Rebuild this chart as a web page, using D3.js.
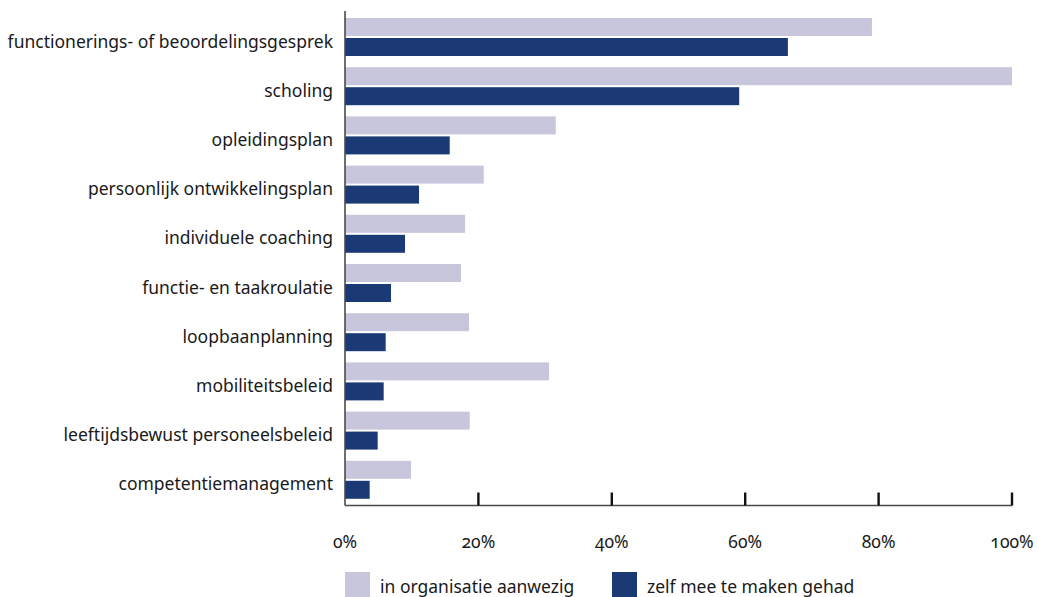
<!DOCTYPE html>
<html>
<head>
<meta charset="utf-8">
<script src="https://cdn.jsdelivr.net/npm/d3@7"></script>
<style>
  html, body { margin: 0; padding: 0; background: #fff; }
  svg { display: block; }
  text { font-family: "Noto Sans", "Open Sans", sans-serif; fill: #1a1a1a; }
  .num { font-variant-numeric: oldstyle-nums; font-feature-settings: "onum" 1; }
</style>
</head>
<body>
<svg id="chart" width="1037" height="597"></svg>
<script>
// Categories, top to bottom
const categories = [
  "functionerings- of beoordelingsgesprek",
  "scholing",
  "opleidingsplan",
  "persoonlijk ontwikkelingsplan",
  "individuele coaching",
  "functie- en taakroulatie",
  "loopbaanplanning",
  "mobiliteitsbeleid",
  "leeftijdsbewust personeelsbeleid",
  "competentiemanagement"
];

// Series (percentages)
const seriesNames = ["in organisatie aanwezig", "zelf mee te maken gehad"];
const presentInOrg = [79.0, 100, 31.6, 20.8, 18.0, 17.4, 18.6, 30.6, 18.7, 9.9];
const experiencedSelf = [66.4, 59.1, 15.7, 11.1, 9.0, 6.9, 6.1, 5.8, 4.9, 3.7];

// Axis ticks
const tickValues = [0, 20, 40, 60, 80, 100];
const tickLabels = ["0%", "20%", "40%", "60%", "80%", "100%"];

const colors = ["#c8c6dc", "#1b3a75"];
const fontSize = 17.5;

const svg = d3.select("#chart");

const x = d3.scaleLinear().domain([0, 100]).range([345, 1012]);
const y = d3.scaleBand()
  .domain(categories)
  .range([12.4, 504.4])
  .paddingInner(0.228)
  .paddingOuter(0.114);
const ySub = d3.scaleBand()
  .domain(seriesNames)
  .range([0, y.bandwidth()])
  .paddingInner(0.1)
  .paddingOuter(0);

const rows = categories.map((c, i) => ({
  cat: c,
  values: [presentInOrg[i], experiencedSelf[i]]
}));

// Bars
const groups = svg.append("g").selectAll("g")
  .data(rows)
  .join("g")
  .attr("transform", d => `translate(0,${y(d.cat)})`);

groups.selectAll("rect")
  .data(d => d.values.map((v, k) => ({ v, k })))
  .join("rect")
  .attr("x", x(0))
  .attr("y", d => ySub(seriesNames[d.k]))
  .attr("width", d => x(d.v) - x(0))
  .attr("height", ySub.bandwidth())
  .attr("fill", d => colors[d.k]);

// Category labels
svg.append("g").selectAll("text")
  .data(categories)
  .join("text")
  .attr("x", 333)
  .attr("y", d => y(d) + y.bandwidth() / 2 + 10.5)
  .attr("text-anchor", "end")
  .attr("font-size", fontSize)
  .text(d => d);

// Axes lines
const axisY = 505.5;
svg.append("line")
  .attr("x1", x(0)).attr("x2", x(0))
  .attr("y1", 11).attr("y2", axisY)
  .attr("stroke", "#4a4a4a").attr("stroke-width", 1.6);

svg.append("line")
  .attr("x1", x(0)).attr("x2", x(100))
  .attr("y1", axisY).attr("y2", axisY)
  .attr("stroke", "#4a4a4a").attr("stroke-width", 1.6);

// Tick marks (pointing up into the plot)
svg.append("g").selectAll("line")
  .data(tickValues.filter(v => v > 0))
  .join("line")
  .attr("x1", d => x(d)).attr("x2", d => x(d))
  .attr("y1", axisY - 13).attr("y2", axisY)
  .attr("stroke", "#111").attr("stroke-width", 2.4);

// Tick labels
svg.append("g").selectAll("text")
  .data(tickValues)
  .join("text")
  .attr("class", "num")
  .attr("x", d => x(d))
  .attr("y", 548)
  .attr("text-anchor", "middle")
  .attr("font-size", fontSize)
  .text((d, i) => tickLabels[i]);

// Legend
const legendX = [345, 612];
const legend = svg.append("g").selectAll("g")
  .data(seriesNames)
  .join("g")
  .attr("transform", (d, i) => `translate(${legendX[i]},572)`);
legend.append("rect")
  .attr("width", 25).attr("height", 25)
  .attr("fill", (d, i) => colors[i]);
legend.append("text")
  .attr("x", 35).attr("y", 21)
  .attr("font-size", fontSize)
  .text(d => d);
</script>
</body>
</html>
